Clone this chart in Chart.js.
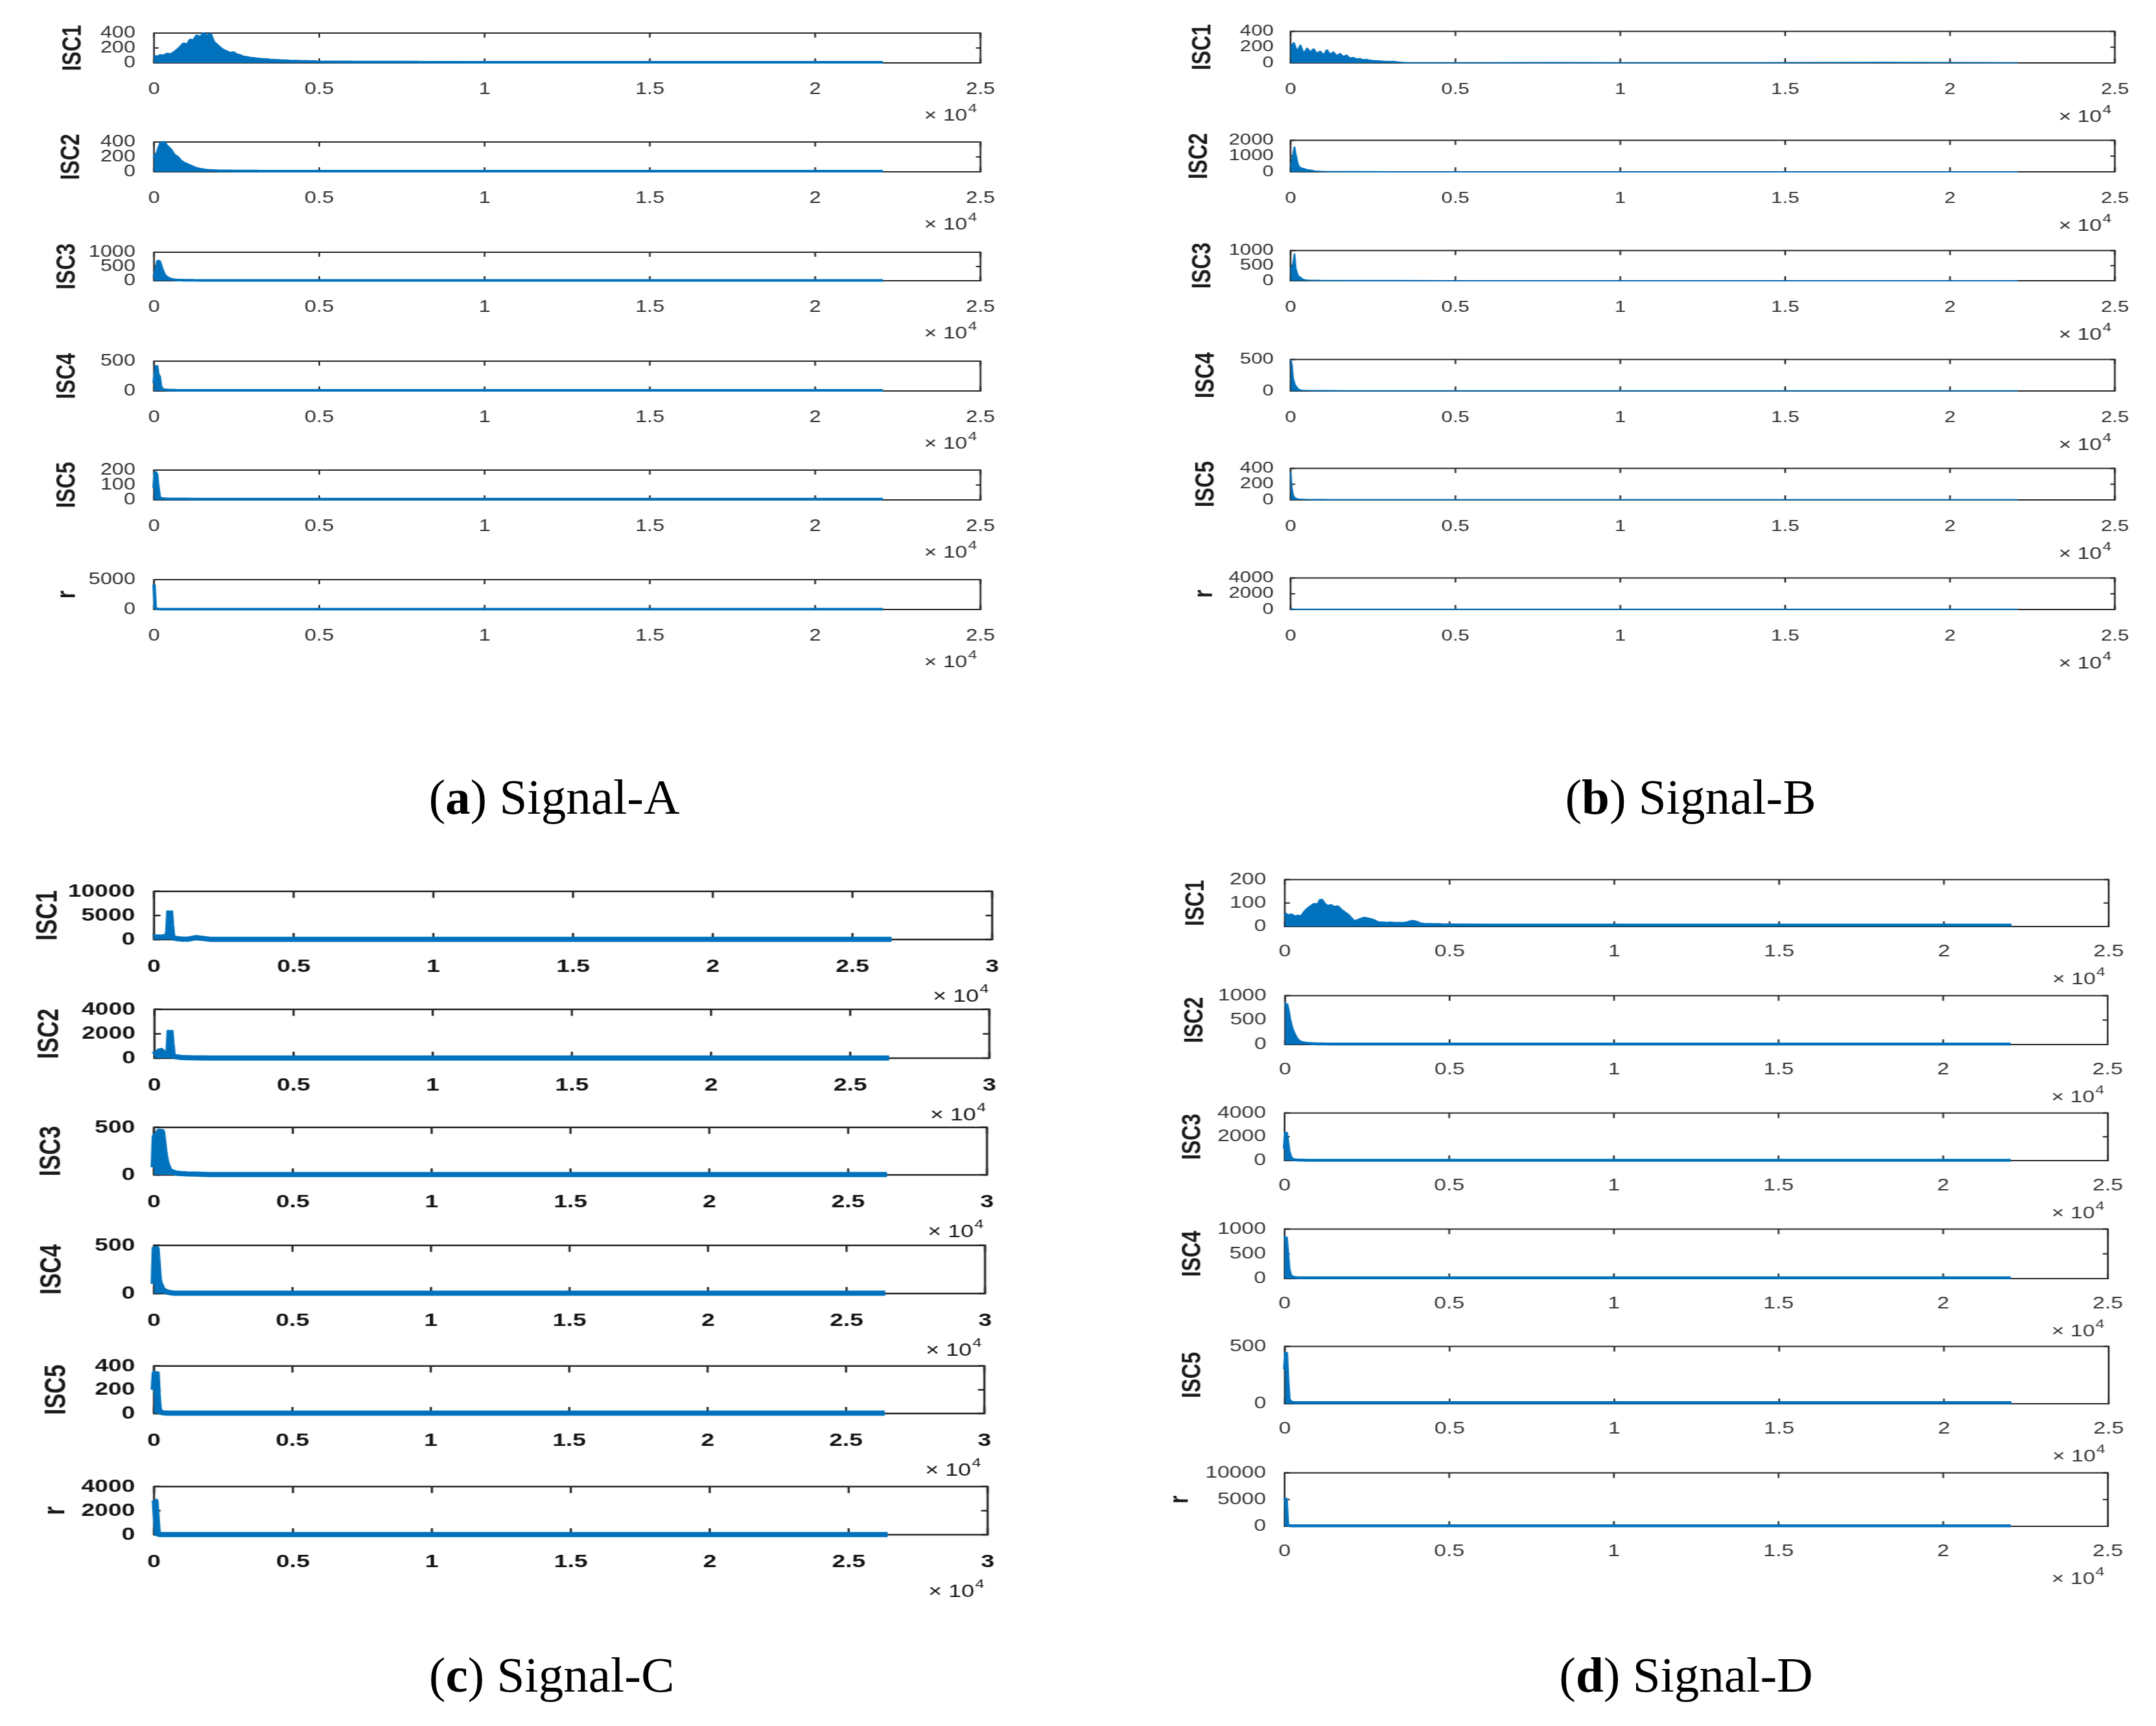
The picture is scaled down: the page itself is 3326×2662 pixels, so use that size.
<!DOCTYPE html>
<html>
<head>
<meta charset="utf-8">
<title>ISC spectra - Signals A to D</title>
<script src="https://cdn.jsdelivr.net/npm/chart.js@4.4.1/dist/chart.umd.min.js"></script>
<style>
  body { margin: 0; background: #fff; }
  #page { position: relative; width: 3326px; height: 2662px; overflow: hidden; background: #fff; }
  #page canvas { position: absolute; transform-origin: 0 0; }
  .caption { position: absolute; width: 800px; text-align: center; font-family: 'Liberation Serif', 'Times New Roman', serif;
             font-size: 77px; line-height: 77px; color: #000; white-space: nowrap; }
</style>
</head>
<body>
<div id="page">
  <div class="caption" style="left:455px;top:1191px">(<b>a</b>) Signal-A</div>
  <div class="caption" style="left:2208px;top:1191px">(<b>b</b>) Signal-B</div>
  <div class="caption" style="left:451px;top:2545px">(<b>c</b>) Signal-C</div>
  <div class="caption" style="left:2201px;top:2545px">(<b>d</b>) Signal-D</div>
</div>
<script>
// frequency bins (sample index) used by the spectra
const freqWide = [0,100,200,300,400,500,600,700,800,900,
  1000,1100,1200,1300,1400,1500,1600,1700,1800,1900,
  2000,2100,2200,2300,2400,2500,2600,2700,2800,2900,
  3000,3100,3200,3300,3400,3500,3600,3700,3800,3900,
  4000,4100,4200,4300,4400,4500,4600,4700,4800,4900,
  5000,6000,8000,10000,12000,14000,16000,18000,20000,22050];
const freqNear = [0,40,80,120,160,200,240,280,320,360,
  400,440,480,520,560,600,640,680,720,760,
  800,840,880,920,960,1000,
  1200,1500,2000,3000,5000,10000,15000,22050];
const freqNearC = [0,40,80,120,160,200,240,280,320,360,
  400,440,480,520,560,600,640,680,720,760,
  800,840,880,920,960,1000,
  1200,1500,2000,3000,5000,10000,20000,26400];

const yNames = ['ISC1', 'ISC2', 'ISC3', 'ISC4', 'ISC5', 'r'];

// Signal-A
const aISC1 = [90,80,100,95,120,110,135,170,210,260, 230,310,290,370,330,400,350,390,280,240,
  200,170,150,130,140,110,100,80,75,65, 60,55,50,45,45,40,38,35,32,30,
  28,26,25,24,22,20,22,18,20,17, 15, 12,10,9,8,8,8,8,8,8];
const aISC2 = [190,250,380,400,340,300,230,200,150,120, 100,80,60,45,35,28,22,20,18,16,
  14,13,12,12,11,11,10,10,10,10, 10,10,9,9,9,9,9,9,9,9,
  9,9,8,8,8,8,8,8,8,8, 8, 8,8,8,8,8,8,8,8,8];
const aISC3 = [150,250,500,700,680,550,400,300,200,150, 120,90,70,55,45,38,32,28,25,22,
  20,20,18,18,17,16, 15,14,14,13,13,12,12,12];
const aISC4 = [130,300,430,280,240,80,40,25,20,18, 16,15,14,14,13,13,13,12,12,12,
  12,12,12,12,12,12, 10,10,10,10,10,10,10,10];
const aISC5 = [80,190,170,90,20,12,10,9,8,8, 7,7,7,7,7,7,7,7,7,7,
  7,7,7,7,7,7, 5,5,5,5,5,5,5,5];
const aR = [4200,300,100,80,70,65,60,60,60,60, 60,60,60,60,60,60,60,60,60,60,
  60,60,60,60,60,60, 60,60,60,60,60,60,60,60];
const yMaxA = [400, 400, 1000, 500, 200, 5000];
const yStepA = [200, 200, 500, 500, 100, 5000];

// Signal-B
const bISC1 = [200,260,150,230,120,190,140,180,120,150, 100,170,110,140,90,120,80,100,60,70,
  50,55,40,45,35,30,28,25,22,20, 18,20,15,10,5,4,3,3,3,3,
  3,3,3,3,3,3,3,3,3,3, 3, 3,4,3,3,3,5,6,5,3];
const bISC2 = [300,700,1200,1600,1100,700,400,300,250,220, 200,180,150,130,120,110,100,80,60,50,
  40,35,30,28,25,22, 18,12,10,6,5,4,4,4];
const bISC3 = [350,450,600,900,400,250,150,130,100,60, 40,30,25,20,18,15,15,14,13,12,
  12,11,11,10,10,10, 8,8,5,5,3,3,3,3];
const bISC4 = [500,420,200,120,80,50,30,20,15,12, 10,9,8,8,7,7,6,6,6,5,
  5,5,5,5,5,5, 5,4,4,3,3,3,3,3];
const bISC5 = [360,150,60,30,20,15,12,10,8,7, 6,6,5,5,5,5,4,4,4,4,
  4,4,4,4,4,4, 3,3,3,3,3,3,3,3];
const bR = [150,80,40,30,25,20,20,20,20,20, 20,20,20,20,20,20,20,20,20,20,
  20,20,20,20,20,20, 20,20,20,20,20,20,20,20];
const yMaxB = [400, 2000, 1000, 500, 400, 4000];
const yStepB = [200, 1000, 500, 500, 200, 2000];

// Signal-C
const cISC1 = [500,600,450,550,500,600,450,500,550,600, 500,550,700,1500,6000,3000,600,400,300,250,
  200,180,150,120,100,80, 60,400,50,40,30,30,30,30];
const cISC2 = [300,400,350,450,550,650,620,500,400,350, 300,320,350,600,2300,1200,300,200,150,120,
  100,90,80,70,60,50, 40,20,15,15,15,15,15,15];
const cISC3 = [80,400,430,420,440,460,470,450,350,250, 170,120,90,60,45,40,35,30,25,22,
  20,18,16,15,14,13, 10,8,3,3,3,3,3,3];
const cISC4 = [100,480,470,300,150,100,80,50,40,30, 25,20,15,12,10,8,6,5,4,3,
  3,3,3,3,3,3, 3,3,3,3,3,3,3,3];
const cISC5 = [200,340,350,150,40,20,10,8,6,5, 4,4,3,3,3,3,3,3,3,3,
  3,3,3,3,3,3, 3,3,3,3,3,3,3,3];
const cR = [2900,2800,1500,100,40,20,20,20,20,20, 20,20,20,20,20,20,20,20,20,20,
  20,20,20,20,20,20, 20,20,20,20,20,20,20,20];
const yMaxC = [10000, 4000, 500, 500, 400, 4000];
const yStepC = [5000, 2000, 500, 500, 200, 2000];

// Signal-D
const dISC1 = [55,45,50,40,45,40,60,75,85,95, 90,115,95,85,90,80,85,70,60,50,
  35,20,25,30,35,33,30,25,18,15, 15,14,15,14,13,14,13,15,20,22,
  18,12,10,9,9,8,8,8,7,7, 7, 6,6,6,6,6,6,6,6,6];
const dISC2 = [820,830,700,550,420,330,260,200,150,110, 80,60,50,42,36,32,28,25,22,20,
  19,18,16,15,14,13, 12,11,10,10,10,10,10,10];
const dISC3 = [1000,2400,1600,800,400,200,120,90,70,60, 50,45,40,38,36,35,34,33,32,31,
  30,30,30,30,30,30, 30,30,30,30,30,30,30,30];
const dISC4 = [820,840,500,200,80,50,30,25,22,20, 18,17,16,15,15,15,15,15,15,15,
  15,15,15,15,15,15, 15,15,15,15,15,15,15,15];
const dISC5 = [300,450,200,40,20,15,12,10,10,10, 10,10,10,10,10,10,10,10,10,10,
  10,10,10,10,10,10, 10,10,10,10,10,10,10,10];
const dR = [5300,5000,300,150,120,100,100,100,100,100, 100,100,100,100,100,100,100,100,100,100,
  100,100,100,100,100,100, 100,100,100,100,100,100,100,100];
const yMaxD = [200, 1000, 4000, 1000, 500, 10000];
const yStepD = [100, 500, 2000, 500, 500, 5000];

// where each panel sits and how it looks (the original figure is stretched sideways)
const panels = [
  { series: [aISC1, aISC2, aISC3, aISC4, aISC5, aR],
    freqs: [freqWide, freqWide, freqNear, freqNear, freqNear, freqNear],
    yMax: yMaxA, yStep: yStepA, xMax: 25000,
    left: 237, rights: [1519, 1519, 1519, 1519, 1519, 1519],
    tops: [46, 214, 384, 552, 720, 889], heights: [51, 51, 49, 51, 51, 51],
    titleX: [112, 110, 104, 104, 104, 103],
    stretch: 1.3, tickSize: 25, tickWeight: 'normal', tickColor: '#303030', titleSize: 32,
    line: 4, box: 2, tickLen: 7, xPad: 18, yPad: 14, expGap: 80, expSize: 26 },
  { series: [bISC1, bISC2, bISC3, bISC4, bISC5, bR],
    freqs: [freqWide, freqNear, freqNear, freqNear, freqNear, freqNear],
    yMax: yMaxB, yStep: yStepB, xMax: 25000,
    left: 1991, rights: [3270, 3270, 3270, 3270, 3270, 3270],
    tops: [46, 214, 384, 552, 720, 889], heights: [51, 51, 49, 51, 51, 51],
    titleX: [1856, 1851, 1856, 1861, 1861, 1859],
    stretch: 1.3, tickSize: 24, tickWeight: 'normal', tickColor: '#303030', titleSize: 32,
    line: 1.8, box: 2, tickLen: 7, xPad: 19, yPad: 12, expGap: 82, expSize: 26 },
  { series: [cISC1, cISC2, cISC3, cISC4, cISC5, cR],
    freqs: [freqNearC, freqNearC, freqNearC, freqNearC, freqNearC, freqNearC],
    yMax: yMaxC, yStep: yStepC, xMax: 30000,
    left: 238, rights: [1531, 1526, 1523, 1520, 1519, 1524],
    tops: [1368, 1550, 1732, 1914, 2100, 2286], heights: [81, 82, 80, 81, 80, 81],
    titleX: [75, 77, 80, 82, 88, 87],
    stretch: 1.33, tickSize: 28, tickWeight: 'bold', tickColor: '#141414', titleSize: 35,
    line: 8, box: 2.5, tickLen: 10, xPad: 17, yPad: 14, expGap: 86, expSize: 27 },
  { series: [dISC1, dISC2, dISC3, dISC4, dISC5, dR],
    freqs: [freqWide, freqNear, freqNear, freqNear, freqNear, freqNear],
    yMax: yMaxD, yStep: yStepD, xMax: 25000,
    left: 1982, rights: [3257, 3255, 3256, 3256, 3257, 3256],
    tops: [1351, 1530, 1711, 1890, 2071, 2266], heights: [78, 81, 79, 82, 94, 88],
    titleX: [1846, 1844, 1840, 1840, 1840, 1821],
    stretch: 1.3, tickSize: 26, tickWeight: 'normal', tickColor: '#383838', titleSize: 32,
    line: 4.5, box: 2, tickLen: 8, xPad: 15, yPad: 14, expGap: 80, expSize: 26 }
];

const FONT = "'Liberation Sans', Arial, Helvetica, sans-serif";
const PAD_LEFT = 220, PAD_RIGHT = 30, PAD_TOP = 24, PAD_BOTTOM = 110;

// MATLAB-like box with inward ticks, rotated axis name and the x10^4 multiplier
const matlabAxes = {
  id: 'matlabAxes',
  beforeDatasetsDraw(chart, args, o) {
    const { ctx, chartArea: a, scales } = chart;
    ctx.save();
    ctx.strokeStyle = o.boxColor;
    ctx.lineWidth = o.boxWidth;
    ctx.strokeRect(a.left, a.top, a.right - a.left, a.bottom - a.top);
    ctx.beginPath();
    scales.x.ticks.forEach(t => {
      const px = scales.x.getPixelForValue(t.value);
      ctx.moveTo(px, a.bottom); ctx.lineTo(px, a.bottom - o.tickLen);
      ctx.moveTo(px, a.top); ctx.lineTo(px, a.top + o.tickLen);
    });
    const hLen = o.tickLen / o.stretch;
    scales.y.ticks.forEach(t => {
      const py = scales.y.getPixelForValue(t.value);
      ctx.moveTo(a.left, py); ctx.lineTo(a.left + hLen, py);
      ctx.moveTo(a.right, py); ctx.lineTo(a.right - hLen, py);
    });
    ctx.stroke();
    ctx.restore();
  },
  afterDraw(chart, args, o) {
    const { ctx, chartArea: a } = chart;
    ctx.save();
    ctx.fillStyle = o.titleColor;
    ctx.font = `bold ${o.titleSize}px ${FONT}`;
    ctx.translate(a.left - o.titleOff, (a.top + a.bottom) / 2);
    ctx.rotate(-Math.PI / 2);
    ctx.textAlign = 'center';
    ctx.textBaseline = 'middle';
    ctx.fillText(o.title, 0, 0);
    ctx.restore();

    ctx.save();
    ctx.fillStyle = o.textColor;
    ctx.textAlign = 'right';
    ctx.textBaseline = 'alphabetic';
    const base = a.bottom + o.expGap + o.expSize * 0.36;
    const xr = a.right - 4;
    ctx.font = `${Math.round(o.expSize * 0.72)}px ${FONT}`;
    ctx.fillText('4', xr, base - o.expSize * 0.5);
    const w4 = ctx.measureText('4').width;
    ctx.font = `${o.expSize}px ${FONT}`;
    ctx.fillText('\u00d7 10', xr - w4 - 1, base);
    ctx.restore();
  }
};

const page = document.getElementById('page');

panels.forEach(p => {
  p.series.forEach((vals, i) => {
    const s = p.stretch;
    const boxW = p.rights[i] - p.left;
    const boxH = p.heights[i];
    const W = Math.round((PAD_LEFT + boxW) / s) + PAD_RIGHT;
    const H = PAD_TOP + boxH + PAD_BOTTOM;
    const yAxisW = W - PAD_RIGHT - boxW / s;

    const canvas = document.createElement('canvas');
    canvas.width = W;
    canvas.height = H;
    canvas.style.width = W + 'px';
    canvas.style.height = H + 'px';
    canvas.style.left = (p.left - yAxisW * s) + 'px';
    canvas.style.top = (p.tops[i] - PAD_TOP) + 'px';
    canvas.style.transform = `scaleX(${s})`;
    page.appendChild(canvas);

    const freqs = p.freqs[i];
    const points = freqs.map((f, k) => ({ x: f, y: vals[k] }));
    const tickFont = { family: FONT, size: p.tickSize, weight: p.tickWeight };

    new Chart(canvas.getContext('2d'), {
      type: 'line',
      data: {
        datasets: [{
          label: yNames[i],
          data: points,
          borderColor: '#0072BD',
          backgroundColor: '#0072BD',
          borderWidth: p.line,
          borderJoinStyle: 'bevel',
          pointRadius: 0,
          tension: 0,
          fill: 'origin',
          // let the thick trace spill over the axis line like MATLAB does
          clip: p.line / 2 + 1
        }]
      },
      options: {
        responsive: false,
        animation: false,
        devicePixelRatio: 1,
        layout: { padding: { left: 0, right: PAD_RIGHT, top: PAD_TOP, bottom: 0 } },
        plugins: {
          legend: { display: false },
          tooltip: { enabled: false },
          matlabAxes: {
            title: yNames[i],
            titleOff: (p.left - p.titleX[i]) / s,
            titleSize: p.titleSize,
            titleColor: '#1a1a1a',
            textColor: p.tickColor,
            boxColor: '#262626',
            boxWidth: p.box,
            tickLen: p.tickLen,
            stretch: s,
            expGap: p.expGap,
            expSize: p.expSize
          }
        },
        scales: {
          x: {
            type: 'linear',
            min: 0,
            max: p.xMax,
            grid: { display: false },
            border: { display: false },
            ticks: {
              stepSize: 5000,
              maxRotation: 0,
              autoSkip: false,
              padding: p.xPad,
              color: p.tickColor,
              font: tickFont,
              callback: v => String(v / 10000)
            },
            afterFit: scale => { scale.height = PAD_BOTTOM; }
          },
          y: {
            type: 'linear',
            min: 0,
            max: p.yMax[i],
            grid: { display: false },
            border: { display: false },
            ticks: {
              stepSize: p.yStep[i],
              autoSkip: false,
              padding: p.yPad,
              color: p.tickColor,
              font: tickFont,
              callback: v => String(v)
            },
            afterFit: scale => { scale.width = yAxisW; }
          }
        }
      },
      plugins: [matlabAxes]
    });
  });
});
</script>
</body>
</html>
